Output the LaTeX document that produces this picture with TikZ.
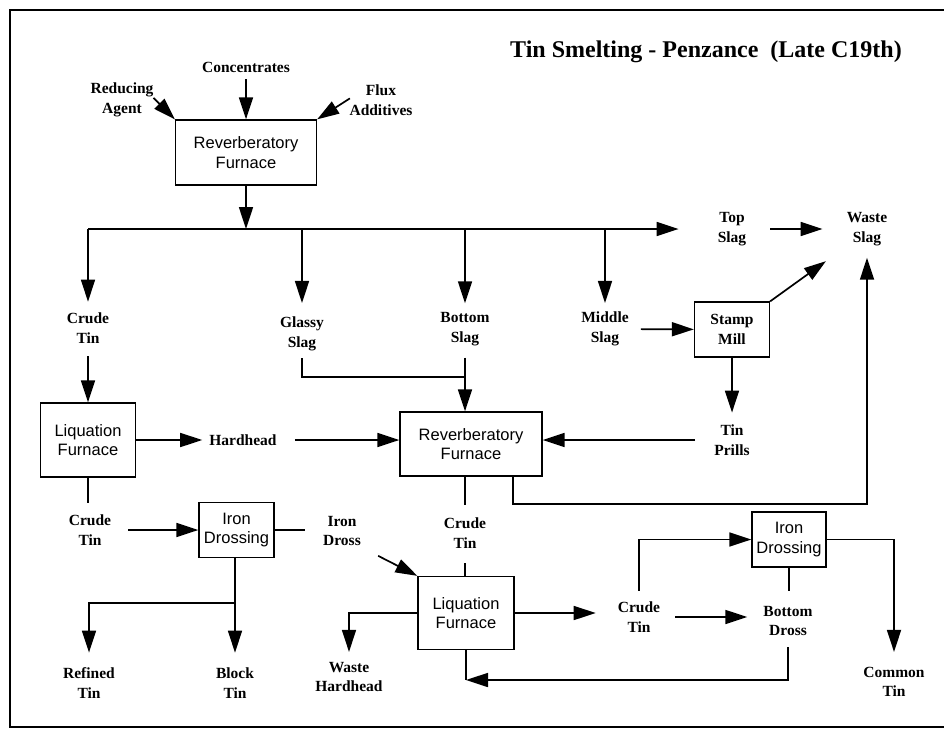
\documentclass[tikz,border=0pt]{standalone}
\usepackage{fontspec}
\setmainfont{Liberation Serif}
\newfontfamily\arialfont{Liberation Sans}
\usepackage{tikz}
\usetikzlibrary{arrows.meta, calc}

\begin{document}
\begin{tikzpicture}[
    x=1pt, y=-1pt,
    furnace/.style={rectangle, draw, line width=1.3pt, align=center, inner sep=0pt, font=\arialfont\fontsize{16.5}{19.5}\selectfont},
    mill/.style={rectangle, draw, line width=1.3pt, align=center, inner sep=0pt, font=\fontsize{15.5}{19.5}\selectfont\bfseries},
    product/.style={align=center, inner sep=2pt, font=\fontsize{15.5}{19.5}\selectfont\bfseries},
    arrow/.style={-{Triangle[length=22pt, width=14pt]}, line width=1.7pt},
    link/.style={line width=1.1pt}
]

\useasboundingbox (0,0) rectangle (944,728);
\draw[line width=1.7pt] (944,10) -- (10,10) -- (10,727) -- (944,727);

\node[font=\fontsize{24}{28}\selectfont\bfseries] (title) at (706,52) {Tin Smelting - Penzance\ \ (Late C19th)};

\node[product] (conc) at (246,67) {Concentrates};
\node[product] (reduce) at (122,100) {Reducing\\Agent};
\node[product] (flux) at (381,100) {Flux\\Additives};
\node[furnace, minimum width=141pt, minimum height=65pt] (rev1) at (246,152.5) {Reverberatory\\Furnace};

\coordinate (busL) at (88,229);
\node[product] (ctin1) at (88,328) {Crude\\Tin};
\node[product] (glassy) at (302,334) {Glassy\\Slag};
\node[product] (bslag) at (465,329) {Bottom\\Slag};
\node[product] (mslag) at (605,329) {Middle\\Slag};
\node[product] (tslag) at (732,229) {Top\\Slag};
\node[product] (wslag) at (867,229) {Waste\\Slag};
\coordinate (slagjoin) at (465,377);

\node[mill, minimum width=75pt, minimum height=55pt] (stamp) at (732,329.5) {Stamp\\Mill};
\node[product] (prills) at (732,440) {Tin\\Prills};

\node[furnace, minimum width=95pt, minimum height=74pt] (liq1) at (88,440) {Liquation\\Furnace};
\node[product] (hard) at (243,440) {Hardhead};
\node[furnace, minimum width=142pt, minimum height=64pt] (rev2) at (471,444) {Reverberatory\\Furnace};

\node[product] (ctin2) at (90,530) {Crude\\Tin};
\node[furnace, minimum width=75pt, minimum height=55pt] (idr1) at (236.5,530) {Iron\\Drossing};
\node[product] (idross) at (342,531) {Iron\\Dross};
\coordinate (split) at (235,603);
\node[product] (refined) at (89,683) {Refined\\Tin};
\node[product] (block) at (235,683) {Block\\Tin};

\node[product] (ctin3) at (465,533) {Crude\\Tin};
\node[furnace, minimum width=96pt, minimum height=73pt] (liq2) at (466,613) {Liquation\\Furnace};
\node[product] (whh) at (349,677) {Waste\\Hardhead};
\node[product] (ctin4) at (639,617) {Crude\\Tin};
\node[furnace, minimum width=74pt, minimum height=55pt] (idr2) at (789,539.5) {Iron\\Drossing};
\node[product] (bdross) at (788,621) {Bottom\\Dross};
\node[product] (common) at (894,682) {Common\\Tin};
\coordinate (liqbase) at (466,680);

\draw[arrow, shorten <=5pt] (conc) -- (rev1);
\draw[arrow, shorten <=-3pt] (reduce.east) -- (rev1.north west);
\draw[arrow, shorten <=-3pt] (flux.west) -- (rev1.north east);
\draw[arrow] (rev1) -- (rev1 |- busL);
\draw[arrow, shorten >=37pt] (busL) -- (tslag);
\draw[arrow, shorten >=9pt] (busL) -- (ctin1);
\draw[arrow, shorten >=12pt] (glassy |- busL) -- (glassy);
\draw[arrow, shorten >=7pt] (bslag |- busL) -- (bslag);
\draw[arrow, shorten >=7pt] (mslag |- busL) -- (mslag);
\draw[arrow, shorten <=22pt, shorten >=22pt] (tslag) -- (wslag);

\draw[arrow, shorten <=10pt] (mslag) -- (stamp);
\draw[arrow, shorten >=23pt] (stamp.north east) -- (wslag.south west);
\draw[arrow, shorten >=10pt] (stamp) -- (prills);
\draw[arrow, shorten <=17pt] (prills) -- (prills -| rev2.east);
\draw[arrow, shorten >=10pt] ([xshift=-30pt]rev2.south east) -- ++(0,27) -| (wslag);

\draw[link, shorten <=5pt] (glassy) |- (slagjoin);
\draw[arrow, shorten <=10pt] (bslag) -- (bslag |- rev2.north);

\draw[arrow, shorten <=11pt] (ctin1) -- (liq1);
\draw[arrow, shorten >=5pt] (liq1) -- (hard);
\draw[arrow, shorten <=16pt] (hard) -- (hard -| rev2.west);
\draw[link, shorten >=10pt] (liq1.south) -- (liq1.south |- ctin2.north);
\draw[arrow, shorten <=15pt] (ctin2) -- (idr1);
\draw[link, shorten >=16pt] (idr1) -- (idr1 -| idross.west);
\draw[arrow, shorten >=13pt] (idr1.south -| block) -- (block);
\draw[arrow, shorten >=13pt] (split) -| (refined);

\draw[arrow, shorten <=17pt] (idross.south east) -- (liq2.north west);
\draw[link, shorten >=11pt] (rev2.south -| ctin3) -- (ctin3);
\draw[link, shorten <=13pt] (ctin3) -- (ctin3 |- liq2.north);
\draw[arrow, shorten >=8pt] (liq2.west) -| (whh);
\draw[arrow, shorten >=20pt] (liq2) -- (liq2 -| ctin4.west);
\draw[arrow, shorten <=9pt] (ctin4) |- (idr2);
\draw[arrow, shorten <=13pt, shorten >=14pt] (ctin4) -- (ctin4 -| bdross.west);
\draw[link, shorten >=13pt] (idr2) -- (idr2 |- bdross.north);
\draw[arrow, shorten >=13pt] (idr2.east) -| (common);
\draw[arrow, shorten <=9pt] (bdross) |- (liqbase);
\draw[link] (liq2) -- (liqbase);

\end{tikzpicture}
\end{document}
